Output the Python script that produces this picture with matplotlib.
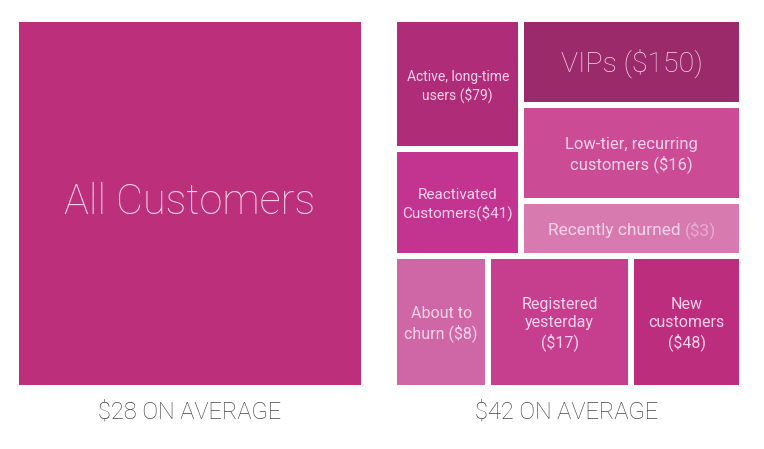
import matplotlib.pyplot as plt
from matplotlib.patches import Rectangle

# segment data (share = relative tile area)
labels = [
    "Active, long-time\nusers ($79)",
    "Reactivated\nCustomers($41)",
    "VIPs ($150)",
    "Low-tier, recurring\ncustomers ($16)",
    "Recently churned ($3)",
    "About to\nchurn ($8)",
    "Registered\nyesterday\n($17)",
    "New\ncustomers\n($48)",
]
shares = [12.9, 10.6, 14.7, 16.6, 9.4, 9.7, 14.7, 11.4]
colors = ["#AE2C78", "#C2348F", "#9A2A6A", "#CB4B95", "#D67AAF",
          "#CF66A6", "#C63F8E", "#BC2D7D"]
sizes = [10, 11, 20.5, 12, 12.5, 11.5, 11.5, 11.5]

left_label = "All Customers"
left_color = "#BC2F7A"
captions = ["$28 ON AVERAGE", "$42 ON AVERAGE"]

text_color = "#F9D3EA"
gap = 6

fig = plt.figure(figsize=(7.64, 4.49), dpi=100)
ax = fig.add_axes([0, 0, 1, 1])
ax.set_xlim(0, 764)
ax.set_ylim(449, 0)
ax.axis("off")


def stack(x, y, w, h, vals, vertical):
    # slice a box along one direction, proportional to vals
    out = []
    tot = sum(vals)
    pos = y if vertical else x
    for v in vals:
        if vertical:
            d = h * v / tot
            out.append((x, pos, w, d))
        else:
            d = w * v / tot
            out.append((pos, y, d, h))
        pos += d
    return out


# right treemap: top block (two columns) over a bottom row
rx, ry, rw, rh = 397 - gap / 2, 22 - gap / 2, 342 + gap, 363 + gap
top_box, bot_box = stack(rx, ry, rw, rh, [sum(shares[:5]), sum(shares[5:])], True)
col_l, col_r = stack(*top_box, [sum(shares[:2]), sum(shares[2:5])], False)
rects = (stack(*col_l, shares[:2], True) + stack(*col_r, shares[2:5], True)
         + stack(*bot_box, shares[5:], False))

dim_labels = []
for (x, y, w, h), lab, c, fs in zip(rects, labels, colors, sizes):
    ax.add_patch(Rectangle((x + gap / 2, y + gap / 2), w - gap, h - gap,
                           facecolor=c, edgecolor="none"))
    single = "\n" not in lab and fs < 20
    t = ax.text(x + w / 2, y + h / 2 + 2, lab, ha="center", va="center",
                color=text_color, fontsize=fs, family="Roboto",
                fontweight="light" if fs > 20 else "normal", linespacing=1.25)
    if single:
        dim_labels.append((t, lab, fs))

# one-line label: name at full colour, value part dimmer
fig.canvas.draw()
inv = ax.transData.inverted()
for t, lab, fs in dim_labels:
    bb = t.get_window_extent()
    x0 = inv.transform((bb.x0, bb.y0))[0]
    x1 = inv.transform((bb.x1, bb.y0))[0]
    yy = t.get_position()[1]
    t.set_visible(False)
    i = lab.index("(")
    ax.text(x0, yy, lab[:i].rstrip(), ha="left", va="center",
            color=text_color, fontsize=fs, family="Roboto")
    ax.text(x1, yy, lab[i:], ha="right", va="center", color=text_color,
            alpha=0.55, fontsize=fs, family="Roboto")

# left: all customers
ax.add_patch(Rectangle((19, 22), 342, 363, facecolor=left_color, edgecolor="none"))
ax.text(190, 202, left_label, ha="center", va="center", color=text_color,
        fontsize=30, family="Roboto", fontweight="light")

for cx, cap in zip([190, 567], captions):
    ax.text(cx, 412, cap, ha="center", va="center", color="#454545",
            fontsize=17, family="Roboto", fontweight="light")

fig.savefig("out.png", dpi=100, facecolor="white")
